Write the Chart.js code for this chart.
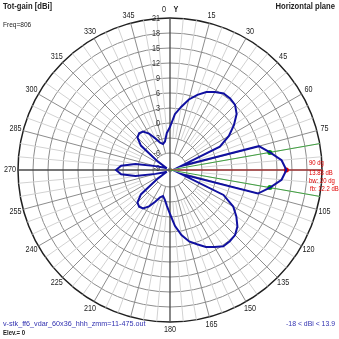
<!DOCTYPE html>
<html>
<head>
<meta charset="utf-8">
<script src="https://cdn.jsdelivr.net/npm/chart.js@4.4.0/dist/chart.umd.min.js"></script>
<style>
  html, body { margin: 0; padding: 0; background: #fff; }
  #wrap { width: 339px; height: 339px; position: relative; }
</style>
</head>
<body>
<div id="wrap"><canvas id="patternChart"></canvas></div>
<script>
// azimuth (deg, clockwise from Y) and total gain in dBi
const angleLabels = [0, 5, 10, 15, 20, 25, 30, 35, 40, 45, 50, 55,
    60, 65, 70, 75, 80, 85, 90, 95, 100, 105, 110, 115,
    120, 125, 130, 135, 140, 145, 150, 155, 160, 165, 170, 175,
    180, 185, 190, 195, 200, 205, 210, 215, 220, 225, 230, 235,
    240, 245, 250, 255, 260, 265, 270, 275, 280, 285, 290, 295,
    300, 305, 310, 315, 320, 325, 330, 335, 340, 345, 350, 355];

const gainDbi = [-0.8, 1.8, 3.4, 5.2, 6.6, 7.8, 8.6, 9.3, 9.3, 9.0, 8.0, 6.2,
    4.2, 1.6, -7.0, 9.0, 10.9, 13.0, 13.88, 13.0, 10.9, 8.8, -7.0, 2.4,
    5.2, 6.8, 8.2, 9.0, 9.2, 9.2, 8.4, 7.6, 6.4, 5.4, 3.8, 1.8,
    -0.6, -2.2, -3.4, -4.0, -3.6, -2.4, -1.0, 0.0, 0.2, -0.2, -1.8, -6.4,
    -8.5, -8.5, -8.0, -6.4, -2.4, 0.4, 1.4, 0.4, -2.4, -6.4, -8.0, -8.5,
    -8.5, -6.4, -1.8, -0.2, 0.2, 0.0, -1.0, -2.4, -3.6, -4.0, -3.6, -2.0];

// azimuth labels printed round the rim (90 and 195 are covered in the original)
const rimLabels = [0, 15, 30, 45, 60, 75, 105, 120, 135, 150, 165, 180,
    210, 225, 240, 255, 270, 285, 300, 315, 330, 345];

const radialTicks = [-9, -6, -3, 0, 3, 6, 9, 12, 15, 18, 21];

// max gain and -3 dB beamwidth markers
const markerAngles = [80, 90, 100];
const markerGains = [10.88, 13.88, 10.88];

const scaleMin = -9.4;
const scaleMax = 21;

const face = '"Liberation Sans", Arial, sans-serif';

const markerData = angleLabels.map(a => {
    const k = markerAngles.indexOf(a);
    return k >= 0 ? markerGains[k] : null;
});
const markerColors = angleLabels.map(a => a === 90 ? "#e00000" : "#10a010");

function spoke(ctx, s, i, from, to) {
    const p = s.getPointPositionForValue(i, from);
    const q = s.getPointPositionForValue(i, to);
    ctx.beginPath();
    ctx.moveTo(p.x, p.y);
    ctx.lineTo(q.x, q.y);
    ctx.stroke();
}

// narrow text like the original (squeezed horizontally)
function putText(ctx, str, x, y, align, sx) {
    ctx.save();
    ctx.translate(x, y);
    ctx.scale(sx, 1);
    ctx.textAlign = align;
    ctx.fillText(str, 0, 0);
    ctx.restore();
}

const necText = {
    id: "necText",

    beforeDatasetsDraw(chart) {
        const s = chart.scales.r;
        const ctx = chart.ctx;
        ctx.save();

        // azimuth grid: 5 dg light, 15 dg mid, axes dark
        ctx.lineWidth = 1;
        angleLabels.forEach((a, i) => {
            if (a % 15 !== 0) {
                ctx.strokeStyle = "#d2d2d2";
                spoke(ctx, s, i, -3, scaleMax);
            }
        });
        angleLabels.forEach((a, i) => {
            if (a % 15 === 0 && a % 90 !== 0) {
                ctx.strokeStyle = "#8c8c8c";
                spoke(ctx, s, i, -6, scaleMax);
            }
        });
        ctx.strokeStyle = "#484848";
        ctx.lineWidth = 1.3;
        angleLabels.forEach((a, i) => {
            if (a % 90 === 0) spoke(ctx, s, i, scaleMin, scaleMax);
        });

        ctx.lineWidth = 1;
        markerAngles.forEach(a => {
            const i = angleLabels.indexOf(a);
            ctx.strokeStyle = a === 90 ? "#e04040" : "#40a040";
            spoke(ctx, s, i, scaleMin, scaleMax);
        });

        ctx.font = "8.5px " + face;
        ctx.fillStyle = "#333";
        ctx.textBaseline = "middle";
        radialTicks.forEach(v => {
            const r = s.getDistanceFromCenterForValue(v);
            putText(ctx, String(v), s.xCenter - 10, s.yCenter - r + 1, "right", 0.85);
        });
        ctx.restore();
    },

    afterDraw(chart) {
        const s = chart.scales.r;
        const ctx = chart.ctx;
        ctx.save();

        ctx.font = "8.5px " + face;
        ctx.fillStyle = "#222";
        ctx.textBaseline = "middle";
        rimLabels.forEach(a => {
            const i = angleLabels.indexOf(a);
            const p = s.getPointPosition(i, s.drawingArea + 8);
            if (a === 0) {
                putText(ctx, "0", p.x - 6, p.y, "center", 0.85);
                ctx.font = "bold 8.5px " + face;
                putText(ctx, "Y", p.x + 6, p.y, "center", 0.85);
                ctx.font = "8.5px " + face;
            } else {
                putText(ctx, String(a), p.x, p.y, "center", 0.85);
            }
        });

        ctx.font = "bold 9px " + face;
        putText(ctx, "Tot-gain [dBi]", 3, 7, "left", 0.85);
        putText(ctx, "Horizontal plane", 335, 7, "right", 0.85);
        ctx.font = "bold 8px " + face;
        putText(ctx, "Elev.= 0", 3, 333, "left", 0.75);

        ctx.font = "8px " + face;
        putText(ctx, "Freq=806", 3, 25, "left", 0.82);
        ctx.fillStyle = "#3030b0";
        putText(ctx, "v-stk_ff6_vdar_60x36_hhh_zmm=11-475.out", 3, 324, "left", 0.9);
        putText(ctx, "-18 < dBi < 13.9", 335, 324, "right", 0.86);

        ctx.font = "7px " + face;
        ctx.fillStyle = "#e00000";
        putText(ctx, "90 dg", 309, 163, "left", 0.85);
        putText(ctx, "13.88 dB", 309, 173, "left", 0.85);
        putText(ctx, "bw: 20 dg", 309, 181, "left", 0.85);
        putText(ctx, "fb: 12.2 dB", 310, 189, "left", 0.85);
        ctx.restore();
    }
};

new Chart(document.getElementById("patternChart"), {
    type: "radar",

    data: {
        labels: angleLabels,

        datasets: [{
            label: "Tot-gain",
            data: gainDbi,
            borderColor: "#1010a0",
            borderWidth: 2,
            backgroundColor: "transparent",
            fill: false,
            pointRadius: 0,
            tension: 0
        }, {
            label: "markers",
            data: markerData,
            showLine: false,
            pointRadius: 2.5,
            pointBorderWidth: 0,
            pointBackgroundColor: markerColors,
            pointBorderColor: markerColors
        }]
    },

    options: {
        responsive: true,
        maintainAspectRatio: false,
        animation: false,
        events: [],

        layout: {
            padding: { left: 18, right: 16, top: 18, bottom: 16 }
        },

        plugins: {
            legend: { display: false },
            tooltip: { enabled: false }
        },

        scales: {
            r: {
                min: scaleMin,
                max: scaleMax,
                startAngle: 0,
                afterBuildTicks: scale => {
                    scale.ticks = radialTicks.map(v => ({ value: v }));
                },
                ticks: { display: false },
                pointLabels: { display: false },
                angleLines: { display: false },
                grid: {
                    circular: true,
                    color: ctx => ctx.tick && ctx.tick.value === scaleMax ? "#202020" : "#8c8c8c",
                    lineWidth: ctx => ctx.tick && ctx.tick.value === scaleMax ? 1.5 : 1
                }
            }
        }
    },

    plugins: [necText]
});
</script>
</body>
</html>
